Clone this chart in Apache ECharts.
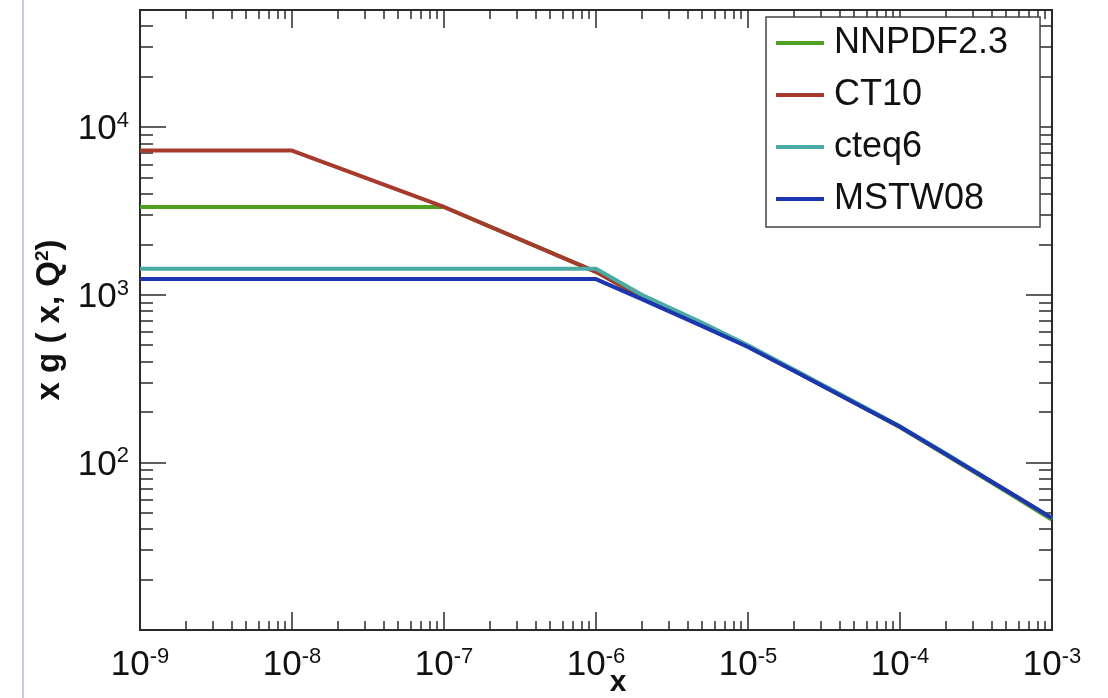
<!DOCTYPE html>
<html>
<head>
<meta charset="utf-8">
<script src="https://cdn.jsdelivr.net/npm/echarts@6/dist/echarts.min.js"></script>
<style>
html,body{margin:0;padding:0;background:#fff;}
#c{width:1108px;height:698px;}
</style>
</head>
<body>
<div id="c"></div>
<script>
// ---- data ----
const xValues = [1e-9, 1e-8, 1e-7, 1e-6, 2e-6, 5e-6, 1e-5, 2e-5, 5e-5, 1e-4, 2e-4, 5e-4, 1e-3];
const seriesNames = ['NNPDF2.3', 'CT10', 'cteq6', 'MSTW08'];
const nnpdfValues = [3340, 3340, 3340, 1370, 965, 660, 492, 354, 228, 162, 111, 67, 45.5];
const ct10Values  = [7250, 7250, 3340, 1370, 965, 660, 492, 354, 228, 163, 112, 68, 46.5];
const cteq6Values = [1430, 1430, 1430, 1430, 1000, 680, 500, 358, 230, 164, 113, 68, 46.5];
const mstwValues  = [1240, 1240, 1240, 1240, 942, 650, 488, 352, 227, 163, 112, 68, 46.5];
const seriesColors = ['#4e9f22', '#a63a2c', '#4aaba5', '#1c36b0'];
const xTickExps = [-9, -8, -7, -6, -5, -4, -3];
const yTickExps = [2, 3, 4];
const xRange = [1e-9, 1e-3];
const yRange = [10, 5e4];

// ---- tick positions ----
const xMajor = xTickExps.map(e => Number('1e' + e));
const xMinor = [];
xTickExps.slice(0, -1).forEach(e => { for (let k = 2; k <= 9; k++) xMinor.push(Number(k + 'e' + e)); });
const yMajor = [1, 2, 3, 4].map(e => Number('1e' + e));
const yLabelVals = yTickExps.map(e => Number('1e' + e));
const yMinor = [];
[1, 2, 3].forEach(e => { for (let k = 2; k <= 9; k++) yMinor.push(Number(k + 'e' + e)); });
[2, 3, 4].forEach(k => yMinor.push(Number(k + 'e4')));

const FONT = '"Liberation Sans", Arial, Helvetica, sans-serif';
const lineC = '#2a2a2a';
const supRich = {
  b: { fontSize: 35, fontFamily: FONT, color: '#111', verticalAlign: 'bottom', lineHeight: 40 },
  s: { fontSize: 22, fontFamily: FONT, color: '#111', verticalAlign: 'bottom', lineHeight: 40, padding: [0, 0, 15, 0] }
};
const expFmt = v => '{b|10}{s|' + Math.round(Math.log10(v)) + '}';

function xAx(opts) {
  return Object.assign({
    type: 'log', logBase: 10, min: xRange[0], max: xRange[1], gridIndex: 0,
    axisLine: { show: false }, splitLine: { show: false },
    axisLabel: { show: false }, minorTick: { show: false }
  }, opts);
}
function yAx(opts) {
  return Object.assign({
    type: 'log', logBase: 10, min: yRange[0], max: yRange[1], gridIndex: 0,
    axisLine: { show: false }, splitLine: { show: false },
    axisLabel: { show: false }, minorTick: { show: false }
  }, opts);
}
const tk = (len, vals) => ({ show: true, inside: true, length: len, lineStyle: { color: lineC, width: 1.5 }, customValues: vals });

const data = [nnpdfValues, ct10Values, cteq6Values, mstwValues];
const series = seriesNames.map((n, i) => ({
  name: n, type: 'line', xAxisIndex: 0, yAxisIndex: 0,
  showSymbol: false, symbol: 'none', smooth: false,
  lineStyle: { width: 4, color: seriesColors[i] },
  itemStyle: { color: seriesColors[i] },
  data: xValues.map((x, j) => [x, data[i][j]])
}));

const chart = echarts.init(document.getElementById('c'), null, { renderer: 'canvas' });
chart.setOption({
  animation: false,
  backgroundColor: '#fff',
  graphic: [{ type: 'line', shape: { x1: 23, y1: 0, x2: 23, y2: 698 }, style: { stroke: '#c9cbe2', lineWidth: 2 } }],
  grid: { left: 140, top: 10, right: 56, bottom: 68, containLabel: false, outerBoundsMode: 'none',
          show: true, borderColor: lineC, borderWidth: 2, backgroundColor: 'transparent' },
  legend: {
    orient: 'vertical', left: 766, top: 17,
    padding: [6, 32, 8, 10], itemGap: 12,
    itemWidth: 48, itemHeight: 4, icon: 'rect',
    borderColor: '#444', borderWidth: 1.5, backgroundColor: '#fff',
    textStyle: { fontSize: 36, fontFamily: FONT, color: '#111', lineHeight: 40, padding: [0, 0, 0, 5] },
    data: seriesNames
  },
  xAxis: [
    xAx({ position: 'bottom', name: 'x', nameLocation: 'middle', nameGap: 38, nameMoveOverlap: false,
          nameTextStyle: { fontSize: 30, fontWeight: 'bold', fontFamily: FONT, color: '#111', padding: [0, 0, 0, 44] },
          axisTick: tk(18, xMajor),
          axisLabel: { show: true, margin: 13, customValues: xMajor, formatter: expFmt, rich: supRich } }),
    xAx({ position: 'bottom', axisTick: tk(9, xMinor) }),
    xAx({ position: 'top', axisTick: tk(18, xMajor) }),
    xAx({ position: 'top', axisTick: tk(9, xMinor) })
  ],
  yAxis: [
    yAx({ position: 'left', name: 'x g ( x, Q{sup|2})', nameLocation: 'middle', nameGap: 74, nameRotate: 90, nameMoveOverlap: false,
          nameTextStyle: { fontSize: 33, fontWeight: 'bold', fontFamily: FONT, color: '#111',
            rich: { sup: { fontSize: 19, fontWeight: 'bold', fontFamily: FONT, color: '#111', verticalAlign: 'bottom', padding: [0, 0, 14, 0] } } },
          axisTick: tk(26, yMajor),
          axisLabel: { show: true, margin: 11, customValues: yLabelVals, formatter: expFmt, rich: supRich } }),
    yAx({ position: 'left', axisTick: tk(13, yMinor) }),
    yAx({ position: 'right', axisTick: tk(26, yMajor) }),
    yAx({ position: 'right', axisTick: tk(13, yMinor) })
  ],
  series: series
});
</script>
</body>
</html>
